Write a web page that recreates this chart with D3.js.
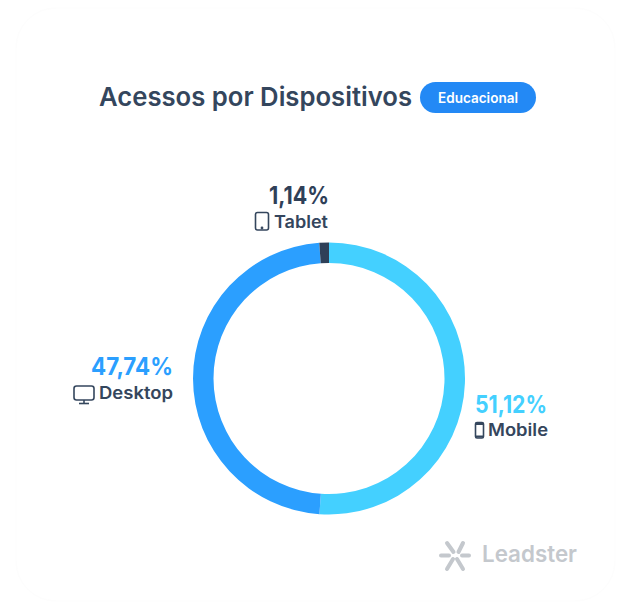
<!DOCTYPE html>
<html lang="en">
<head>
<meta charset="UTF-8">
<title>Acessos por Dispositivos</title>
<style>
html, body { margin: 0; padding: 0; background: #fff; }
svg { display: block; }
text { font-family: Inter, "Open Sans", sans-serif; }
</style>
</head>
<body>
<script src="https://d3js.org/d3.v7.min.js"></script>
<script>
var devices = ['Mobile', 'Desktop', 'Tablet'];
var shares = [51.12, 47.74, 1.14];
var shareLabels = ['51,12%', '47,74%', '1,14%'];
var sliceColors = ['#44d0ff', '#2b9fff', '#2f4058'];
var labelColors = ['#44d0ff', '#2b9fff', '#2f4058'];
var titleText = 'Acessos por Dispositivos';
var badgeText = 'Educacional';
var brandText = 'Leadster';

var width = 631, height = 611;
var dark = '#34465d';

var svg = d3.select('body').append('svg')
    .attr('width', width)
    .attr('height', height);

// barely visible card edge
svg.append('rect')
    .attr('x', 16).attr('y', 8)
    .attr('width', 599).attr('height', 593)
    .attr('rx', 40)
    .attr('fill', '#fff')
    .attr('stroke', '#fdfdfd');

svg.append('text')
    .attr('x', 99).attr('y', 106)
    .attr('textLength', 313)
    .attr('lengthAdjust', 'spacingAndGlyphs')
    .attr('font-size', 26)
    .attr('font-weight', 600)
    .attr('fill', dark)
    .text(titleText);

svg.append('rect')
    .attr('x', 420).attr('y', 82)
    .attr('width', 116).attr('height', 31)
    .attr('rx', 15.5)
    .attr('fill', '#2389f5');

svg.append('text')
    .attr('x', 438).attr('y', 103)
    .attr('textLength', 80)
    .attr('lengthAdjust', 'spacingAndGlyphs')
    .attr('font-size', 14)
    .attr('font-weight', 600)
    .attr('fill', '#fff')
    .text(badgeText);

// donut
var pie = d3.pie().sort(null).value(d => d);
var arc = d3.arc().innerRadius(115.5).outerRadius(136);

svg.append('g')
    .attr('transform', 'translate(329,378.5)')
    .selectAll('path')
    .data(pie(shares))
    .enter().append('path')
    .attr('d', arc)
    .attr('fill', (d, i) => sliceColors[i]);

// label boxes, one per device
var labelPos = [
    { x: 475, y: 413, w: 72, nameX: 488, nameY: 436, nameW: 60 },
    { x: 91, y: 375, w: 82, nameX: 99, nameY: 399, nameW: 74 },
    { x: 269, y: 204, w: 60, nameX: 274, nameY: 228, nameW: 54 }
];

devices.forEach(function(name, i) {
    var p = labelPos[i];
    svg.append('text')
        .attr('x', p.x).attr('y', p.y)
        .attr('textLength', p.w)
        .attr('lengthAdjust', 'spacingAndGlyphs')
        .attr('font-size', 24)
        .attr('font-weight', 700)
        .attr('fill', labelColors[i])
        .text(shareLabels[i]);
    svg.append('text')
        .attr('x', p.nameX).attr('y', p.nameY)
        .attr('textLength', p.nameW)
        .attr('lengthAdjust', 'spacingAndGlyphs')
        .attr('font-size', 17)
        .attr('font-weight', 600)
        .attr('fill', dark)
        .text(name);
});

// device icons
var icons = svg.append('g')
    .attr('fill', 'none')
    .attr('stroke', dark)
    .attr('stroke-width', 1.6);

icons.append('rect').attr('x', 255.5).attr('y', 212.5).attr('width', 13).attr('height', 17.5).attr('rx', 2);
icons.append('circle').attr('cx', 262).attr('cy', 228).attr('r', 0.6);

icons.append('rect').attr('x', 475.5).attr('y', 422.5).attr('width', 8).attr('height', 15.5).attr('rx', 1.5);
icons.append('line').attr('x1', 476).attr('x2', 483).attr('y1', 424).attr('y2', 424).attr('stroke-width', 2);
icons.append('line').attr('x1', 476).attr('x2', 483).attr('y1', 436.5).attr('y2', 436.5).attr('stroke-width', 2);

icons.append('rect').attr('x', 74).attr('y', 386).attr('width', 20).attr('height', 14).attr('rx', 2.5);
icons.append('line').attr('x1', 84).attr('x2', 84).attr('y1', 400).attr('y2', 403);
icons.append('line').attr('x1', 79).attr('x2', 89).attr('y1', 403.5).attr('y2', 403.5);

// brand mark, bottom right
var mark = svg.append('g')
    .attr('stroke', '#c4c8cd')
    .attr('stroke-width', 4)
    .attr('stroke-linecap', 'round');

mark.append('line').attr('x1', 447).attr('y1', 543).attr('x2', 453.5).attr('y2', 552);
mark.append('line').attr('x1', 463).attr('y1', 543).attr('x2', 458.5).attr('y2', 552);
mark.append('line').attr('x1', 441).attr('y1', 555.5).attr('x2', 449).attr('y2', 555.5);
mark.append('line').attr('x1', 462).attr('y1', 555.5).attr('x2', 469).attr('y2', 555.5);
mark.append('line').attr('x1', 453).attr('y1', 559).attr('x2', 447).attr('y2', 569);
mark.append('line').attr('x1', 457).attr('y1', 559).attr('x2', 463).attr('y2', 569);

svg.append('text')
    .attr('x', 482).attr('y', 562)
    .attr('textLength', 95)
    .attr('lengthAdjust', 'spacingAndGlyphs')
    .attr('font-size', 23)
    .attr('font-weight', 600)
    .attr('fill', '#c4c8cd')
    .text(brandText);
</script>
</body>
</html>
